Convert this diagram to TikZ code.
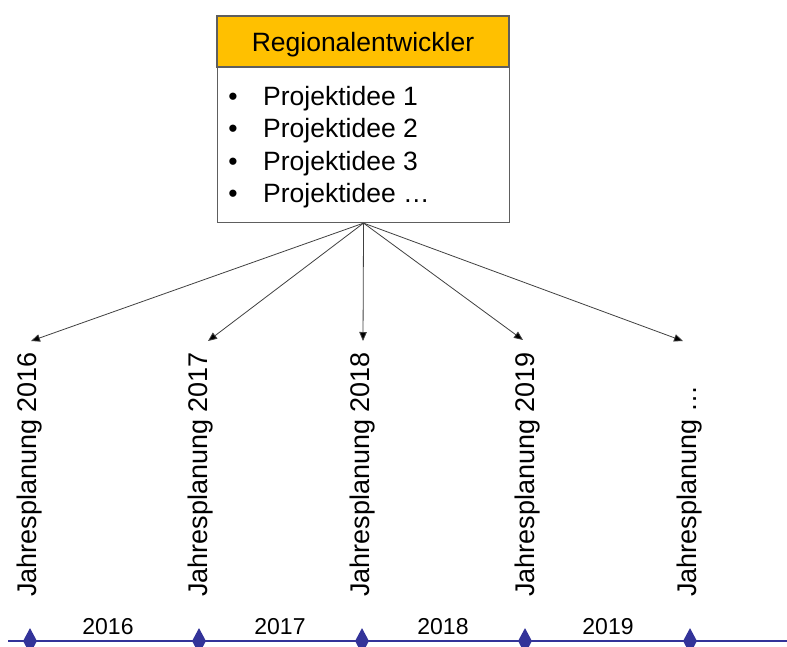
\documentclass[tikz,border=0pt]{standalone}
\usepackage{fontspec}
\setmainfont{Liberation Sans}
\usetikzlibrary{shapes.geometric,arrows.meta}
\definecolor{hdrcol}{HTML}{FFC000}
\definecolor{tlcol}{HTML}{333399}
\definecolor{bordcol}{HTML}{5E5E5E}
\definecolor{arrcol}{HTML}{404040}
\begin{document}
\begin{tikzpicture}[x=1pt,y=-1pt,
  bigfont/.style={font=\fontsize{26.5}{30}\selectfont},
  hdrbox/.style={draw=bordcol, line width=1.1pt, fill=hdrcol, minimum width=292pt, minimum height=51pt, inner sep=0pt, text height=19pt, text depth=0pt, bigfont},
  bodybox/.style={draw=bordcol, line width=1.1pt, fill=white, minimum width=292pt, minimum height=155pt, inner sep=0pt, anchor=north west},
  bullet/.style={anchor=base, inner sep=0pt, bigfont},
  item/.style={anchor=base west, inner sep=0pt, bigfont},
  conn/.style={draw=arrcol, line width=0.8pt, -{Triangle[length=9pt,width=7.5pt,fill=black]}},
  vlab/.style={rotate=90, anchor=base west, inner sep=0pt, font=\fontsize{27}{30}\selectfont},
  tlline/.style={draw=tlcol, line width=2.6pt},
  dmd/.style={diamond, fill=tlcol, minimum width=14pt, minimum height=26pt, inner sep=0pt},
  year/.style={anchor=base, inner sep=0pt, font=\fontsize{23}{26}\selectfont}
]
\useasboundingbox (0,0) rectangle (787,646);
% box
\node[bodybox] (body) at (217,67) {};
\node[hdrbox] (hdr) at (363,41.5) {Regionalentwickler};
\node[bullet] (b1) at (233,105.5) {•};
\node[item] (p1) at (263,105.5) {Projektidee 1};
\node[bullet] (b2) at (233,137.8) {•};
\node[item] (p2) at (263,137.8) {Projektidee 2};
\node[bullet] (b3) at (233,170) {•};
\node[item] (p3) at (263,170) {Projektidee 3};
\node[bullet] (b4) at (233,202.5) {•};
\node[item] (p4) at (263,202.5) {Projektidee …};
% targets
\coordinate (t1) at (31,341);
\coordinate (t2) at (208,341);
\coordinate (t3) at (363,341);
\coordinate (t4) at (523,340);
\coordinate (t5) at (683,341);
\foreach \t in {t1,t2,t3,t4,t5}{\draw[conn] (body.south) -- (\t);}
% vertical labels
\node[vlab] (j1) at (36,597) {Jahresplanung 2016};
\node[vlab] (j2) at (207,597) {Jahresplanung 2017};
\node[vlab] (j3) at (369,597) {Jahresplanung 2018};
\node[vlab] (j4) at (534,597) {Jahresplanung 2019};
\node[vlab] (j5) at (696,597) {Jahresplanung …};
% timeline
\coordinate (ls) at (8,641);
\coordinate (le) at (787,641);
\draw[tlline] (ls) -- (le);
\node[dmd] (d1) at (30,641) {};
\node[dmd] (d2) at (199,641) {};
\node[dmd] (d3) at (362,641) {};
\node[dmd] (d4) at (525,641) {};
\node[dmd] (d5) at (690,641) {};
\node[year] (y1) at (108,634) {2016};
\node[year] (y2) at (280,634) {2017};
\node[year] (y3) at (443,634) {2018};
\node[year] (y4) at (608,634) {2019};
\end{tikzpicture}
\end{document}
